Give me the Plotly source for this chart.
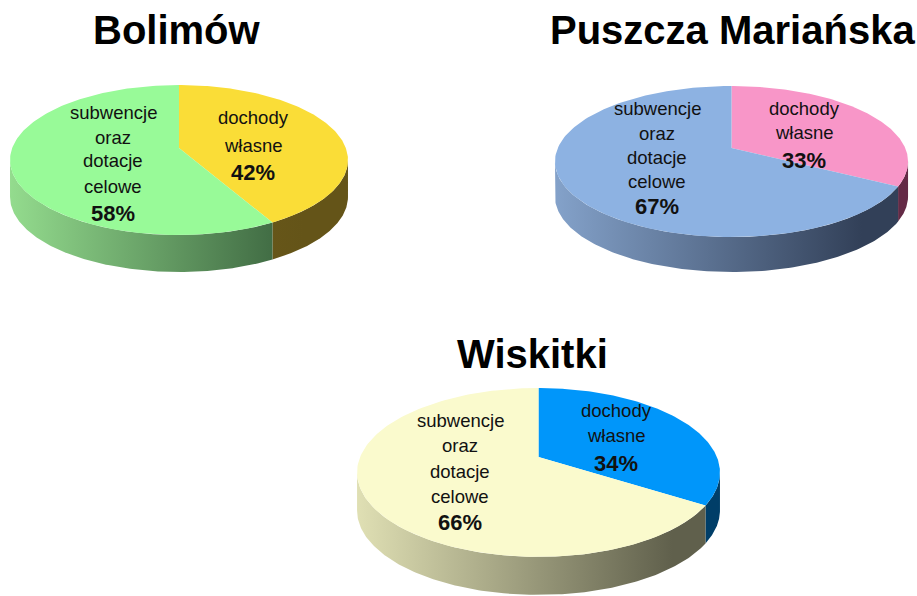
import math
import plotly.graph_objects as go

# ---------------- data ----------------
regions = ["Bolimów", "Puszcza Mariańska", "Wiskitki"]
categories = ["dochody własne", "subwencje oraz dotacje celowe"]
own_income_pct = [42, 33, 34]
subsidies_pct = [58, 67, 66]

# ---------------- styling / layout (not data) ----------------
top_colors = [
    ["rgb(250,221,55)", "rgb(152,250,152)"],
    ["rgb(248,150,200)", "rgb(141,178,226)"],
    ["rgb(0,150,250)", "rgb(250,250,205)"],
]
side_colors = [
    [("rgb(120,100,30)", "rgb(100,84,24)"), ("rgb(148,220,142)", "rgb(56,96,60)")],
    [("rgb(125,55,90)", "rgb(100,42,70)"), ("rgb(132,162,202)", "rgb(50,64,88)")],
    [("rgb(0,75,122)", "rgb(0,62,104)"), ("rgb(224,224,180)", "rgb(96,96,76)")],
]
# geometry of each pie: centre x, centre y, half-width, half-height, perspective, depth
geom = [
    dict(cx=179, cy=148, A=166.8, B=73.1, k=0.16, depth=37),
    dict(cx=731.5, cy=148, A=173.7, B=73.1, k=0.179, depth=35),
    dict(cx=538.5, cy=457, A=178.4, B=81.6, k=0.183, depth=38),
]
title_pos = [(177, 30), (732, 30), (532, 354)]
# label anchor positions (x, [line y's]) for each slice
label_pos = [
    [(253, [117, 145, 172]), (113, [112, 137, 160, 186, 213])],
    [(804, [108, 132, 160]), (657, [108, 133, 157, 181, 206])],
    [(616, [410, 435, 463]), (460, [420, 445, 471, 496, 522])],
]
label_lines = [["dochody", "własne"], ["subwencje", "oraz", "dotacje", "celowe"]]

W, H = 917, 596
FONT = "Liberation Sans, Arial, sans-serif"


def proj(phi, g, dy=0.0):
    u, v = math.cos(phi), math.sin(phi)
    s = 1.0 / (1.0 + g["k"] * v)
    return g["cx"] + g["A"] * u * s, g["cy"] - g["B"] * v * s + dy


def arc(p0, p1, g, dy=0.0, n=160):
    pts = [proj(p0 + (p1 - p0) * i / n, g, dy) for i in range(n + 1)]
    return [p[0] for p in pts], [p[1] for p in pts]


fig = go.Figure()
annotations = []

for r, name in enumerate(regions):
    g = geom[r]
    values = [own_income_pct[r], subsidies_pct[r]]
    total = sum(values)
    # slice angle intervals (clockwise from 12 o'clock)
    intervals = []
    start = math.pi / 2
    for v in values:
        end = start - 2 * math.pi * v / total
        intervals.append((end, start))
        start = end

    # front side walls
    a = math.asin(g["k"])
    f_lo, f_hi = -(math.pi - a), -a
    for i, (lo, hi) in enumerate(intervals):
        for shift in (-2 * math.pi, 0, 2 * math.pi):
            l2, h2 = max(lo + shift, f_lo), min(hi + shift, f_hi)
            if h2 - l2 <= 1e-6:
                continue
            xt, yt = arc(h2, l2, g)
            xb, yb = arc(l2, h2, g, dy=g["depth"])
            xs = xt + xb + [xt[0]]
            ys = yt + yb + [yt[0]]
            c0, c1 = side_colors[r][i]
            fig.add_trace(go.Scatter(
                x=xs, y=ys, mode="lines", line=dict(width=0),
                fill="toself",
                fillgradient=dict(type="horizontal",
                                  colorscale=[[0, c0], [1, c1]],
                                  start=g["cx"] - g["A"] * 1.02,
                                  stop=g["cx"] + g["A"] * 0.75),
                hoverinfo="skip", showlegend=False))

    # top face slices
    for i, (lo, hi) in enumerate(intervals):
        xa, ya = arc(hi, lo, g)
        xs = [g["cx"]] + xa + [g["cx"]]
        ys = [g["cy"]] + ya + [g["cy"]]
        fig.add_trace(go.Scatter(
            x=xs, y=ys, mode="lines", line=dict(width=0),
            fill="toself", fillcolor=top_colors[r][i],
            name=categories[i], text=f"{name}: {values[i]}%",
            hoverinfo="text", showlegend=False))

    # title
    tx, ty = title_pos[r]
    annotations.append(dict(x=tx, y=ty, xref="x", yref="y", text=f"<b>{name}</b>",
                            showarrow=False, font=dict(family=FONT, size=40, color="#000"),
                            xanchor="center", yanchor="middle"))
    # slice labels
    for i in range(2):
        lx, lys = label_pos[r][i]
        lines = label_lines[i] + [f"<b>{values[i]}%</b>"]
        for j, (txt, ly) in enumerate(zip(lines, lys)):
            is_pct = j == len(lines) - 1
            annotations.append(dict(x=lx, y=ly, xref="x", yref="y", text=txt,
                                    showarrow=False,
                                    font=dict(family=FONT, size=22 if is_pct else 18.5, color="#111"),
                                    xanchor="center", yanchor="middle"))

fig.update_layout(
    width=W, height=H,
    margin=dict(l=0, r=0, t=0, b=0),
    paper_bgcolor="white", plot_bgcolor="white",
    xaxis=dict(range=[0, W], visible=False, fixedrange=True),
    yaxis=dict(range=[H, 0], visible=False, fixedrange=True),
    annotations=annotations,
    showlegend=False,
)

fig.write_html("out.html", config={"displayModeBar": False},
               post_script="document.body.style.margin='0';document.body.style.overflow='hidden';")
